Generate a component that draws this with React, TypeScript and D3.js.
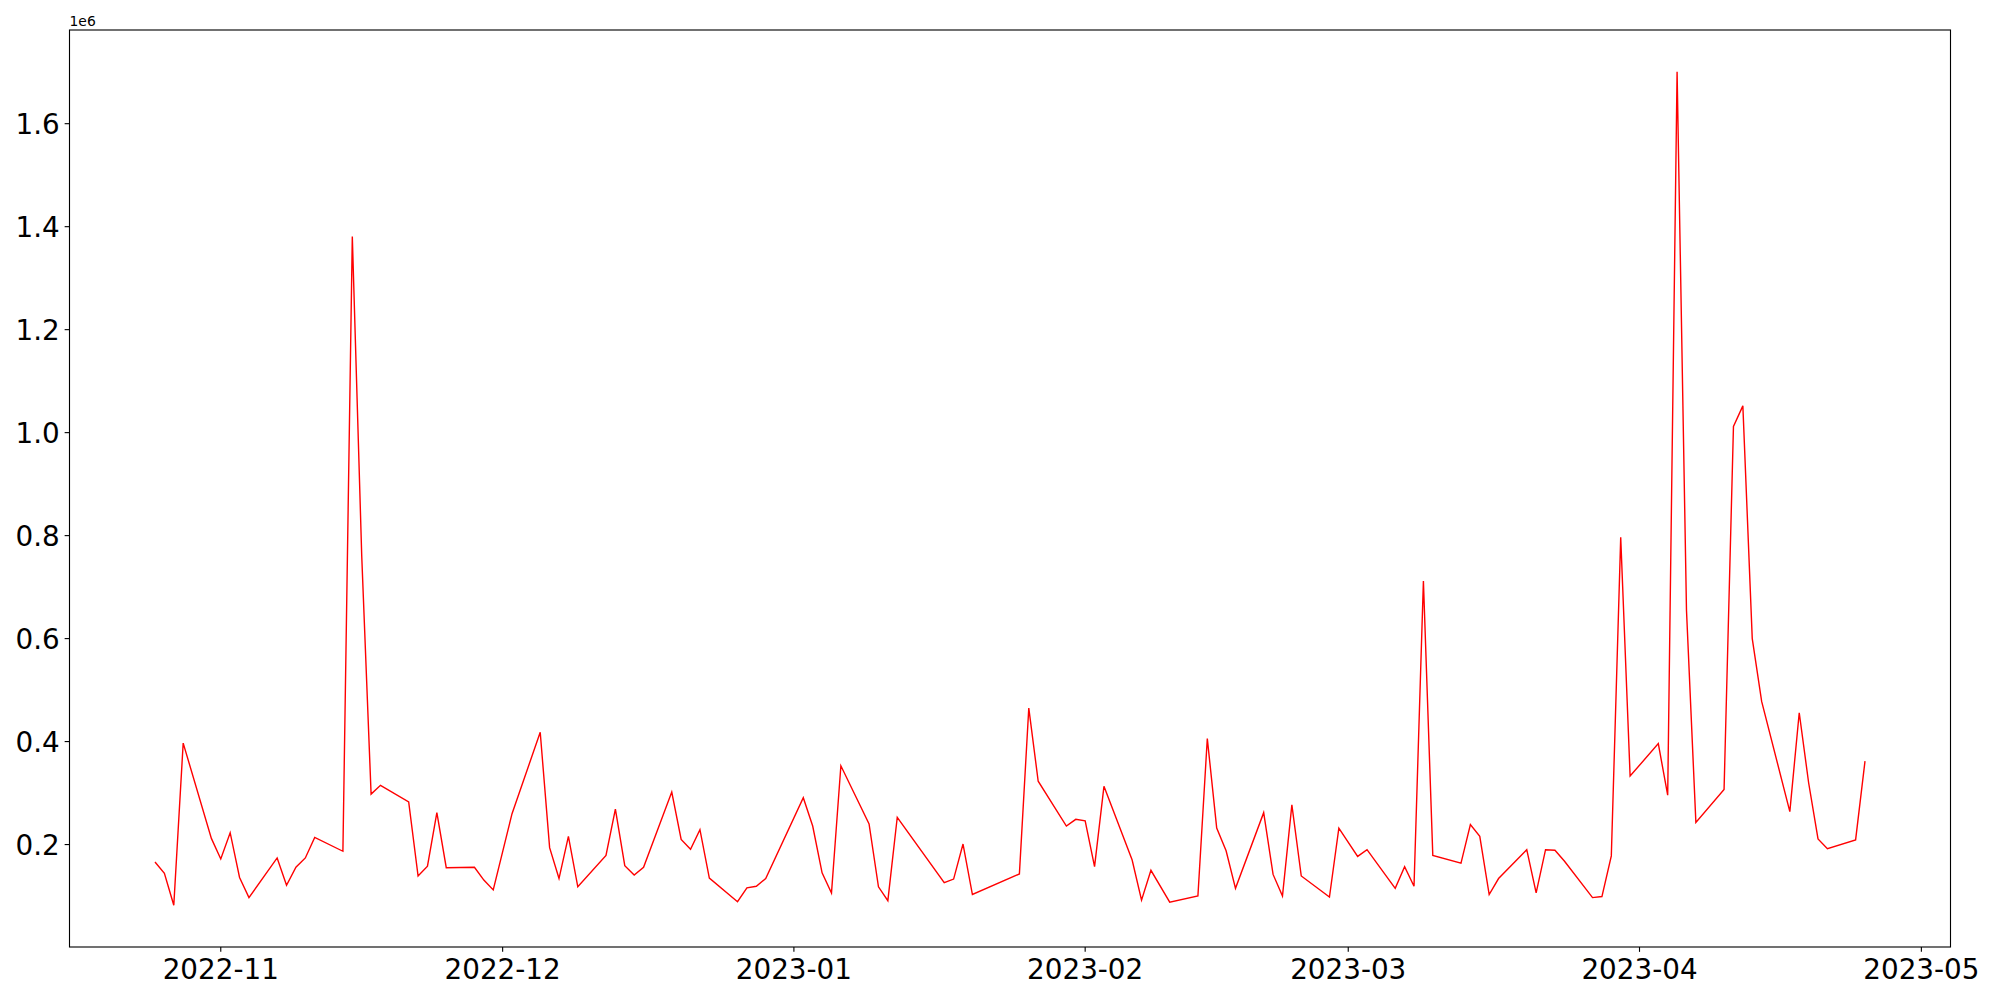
import React from "react";
import * as d3 from "d3";

const dates: string[] = [
  "2022-10-25","2022-10-26","2022-10-27","2022-10-28","2022-10-31",
  "2022-11-01","2022-11-02","2022-11-03","2022-11-04","2022-11-07",
  "2022-11-08","2022-11-09","2022-11-10","2022-11-11","2022-11-14",
  "2022-11-15","2022-11-16","2022-11-17","2022-11-18","2022-11-21",
  "2022-11-22","2022-11-23","2022-11-24","2022-11-25","2022-11-28",
  "2022-11-29","2022-11-30","2022-12-02","2022-12-05","2022-12-06",
  "2022-12-07","2022-12-08","2022-12-09","2022-12-12","2022-12-13",
  "2022-12-14","2022-12-15","2022-12-16","2022-12-19","2022-12-20",
  "2022-12-21","2022-12-22","2022-12-23","2022-12-26","2022-12-27",
  "2022-12-28","2022-12-29","2023-01-02","2023-01-03","2023-01-04",
  "2023-01-05","2023-01-06","2023-01-09","2023-01-10","2023-01-11",
  "2023-01-12","2023-01-17","2023-01-18","2023-01-19","2023-01-20",
  "2023-01-25","2023-01-26","2023-01-27","2023-01-30","2023-01-31",
  "2023-02-01","2023-02-02","2023-02-03","2023-02-06","2023-02-07",
  "2023-02-08","2023-02-10","2023-02-13","2023-02-14","2023-02-15",
  "2023-02-16","2023-02-17","2023-02-20","2023-02-21","2023-02-22",
  "2023-02-23","2023-02-24","2023-02-27","2023-02-28","2023-03-02",
  "2023-03-03","2023-03-06","2023-03-07","2023-03-08","2023-03-09",
  "2023-03-10","2023-03-13","2023-03-14","2023-03-15","2023-03-16",
  "2023-03-17","2023-03-20","2023-03-21","2023-03-22","2023-03-23",
  "2023-03-24","2023-03-27","2023-03-28","2023-03-29","2023-03-30",
  "2023-03-31","2023-04-03","2023-04-04","2023-04-05","2023-04-06",
  "2023-04-07","2023-04-10","2023-04-11","2023-04-12","2023-04-13",
  "2023-04-14","2023-04-17","2023-04-18","2023-04-19","2023-04-20",
  "2023-04-21","2023-04-24","2023-04-25",
];

const volumes: number[] = [
  166000, 144000, 82000, 397000, 212000,
  172000, 223000, 136000, 97000, 174000,
  121000, 156000, 174000, 214000, 187000,
  1381000, 762000, 298000, 315000, 283000,
  139000, 158000, 262000, 155000, 156000,
  131000, 112000, 260000, 418000, 194000,
  134000, 216000, 118000, 179000, 269000,
  159000, 141000, 156000, 302000, 210000,
  191000, 229000, 135000, 89000, 116000,
  119000, 134000, 291000, 236000, 145000,
  106000, 353000, 240000, 118000, 91000,
  253000, 126000, 133000, 201000, 103000,
  143000, 465000, 323000, 236000, 249000,
  246000, 157000, 313000, 170000, 92000,
  150000, 88000, 100000, 406000, 232000,
  188000, 115000, 262000, 142000, 100000,
  277000, 139000, 98000, 232000, 177000,
  190000, 115000, 157000, 119000, 712000,
  179000, 164000, 239000, 216000, 103000,
  134000, 190000, 106000, 190000, 189000,
  168000, 97000, 99000, 178000, 797000,
  333000, 396000, 296000, 1701000, 655000,
  243000, 307000, 1012000, 1052000, 600000,
  478000, 264000, 456000, 320000, 211000,
  192000, 209000, 362000,
];

const monthTicks: string[] = [
  "2022-11-01","2022-12-01","2023-01-01","2023-02-01","2023-03-01","2023-04-01","2023-05-01",
];

const yTickValues: number[] = [200000, 400000, 600000, 800000, 1000000, 1200000, 1400000, 1600000];

const W = 2000;
const H = 1000;
const L = 69.5;
const R = 1950.5;
const T = 30;
const B = 947;
const FONT = "DejaVu Sans, sans-serif";

export default function App() {
  const parse = d3.utcParse("%Y-%m-%d");
  const data = dates.map((d, i) => ({ date: parse(d) as Date, v: volumes[i] }));

  const [x0, x1] = d3.extent(data, (d) => d.date) as [Date, Date];
  const xSpan = x1.getTime() - x0.getTime();
  const x = d3
    .scaleUtc()
    .domain([new Date(x0.getTime() - 0.05 * xSpan), new Date(x1.getTime() + 0.05 * xSpan)])
    .range([L, R]);

  const [y0, y1] = d3.extent(data, (d) => d.v) as [number, number];
  const ySpan = y1 - y0;
  const y = d3
    .scaleLinear()
    .domain([y0 - 0.05 * ySpan, y1 + 0.05 * ySpan])
    .range([B, T]);

  const line = d3
    .line<{ date: Date; v: number }>()
    .x((d) => x(d.date))
    .y((d) => y(d.v));

  const fmtX = d3.utcFormat("%Y-%m");
  const tickLen = 4.86;
  const sw = 1.11;

  return (
    <svg
      width={W}
      height={H}
      style={{ position: "absolute", left: 0, top: 0, display: "block", background: "#fff" }}
    >
      <rect x={0} y={0} width={W} height={H} fill="#fff" />
      <path d={line(data) || ""} fill="none" stroke="#ff0000" strokeWidth={1.4} strokeLinejoin="miter" />
      <rect x={L} y={T} width={R - L} height={B - T} fill="none" stroke="#000" strokeWidth={sw} />
      {monthTicks.map((t) => {
        const d = parse(t) as Date;
        const px = x(d);
        return (
          <g key={t}>
            <line x1={px} x2={px} y1={B} y2={B + tickLen} stroke="#000" strokeWidth={sw} />
            <text
              x={px}
              y={978.5}
              textAnchor="middle"
              fontFamily={FONT}
              fontSize={27.8}
              fill="#000"
            >
              {fmtX(d)}
            </text>
          </g>
        );
      })}
      {yTickValues.map((v) => {
        const py = y(v);
        return (
          <g key={v}>
            <line x1={L - tickLen} x2={L} y1={py} y2={py} stroke="#000" strokeWidth={sw} />
            <text
              x={L - tickLen - 4.86}
              y={py}
              dy="0.36em"
              textAnchor="end"
              fontFamily={FONT}
              fontSize={27.8}
              fill="#000"
            >
              {(v / 1e6).toFixed(1)}
            </text>
          </g>
        );
      })}
      <text x={L} y={26} fontFamily={FONT} fontSize={13.9} fill="#000">
        1e6
      </text>
    </svg>
  );
}
